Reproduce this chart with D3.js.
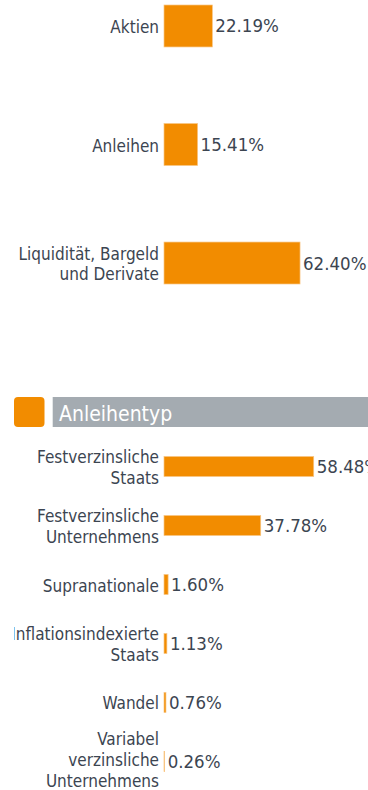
<!DOCTYPE html>
<html>
<head>
<meta charset="utf-8">
<script src="https://cdn.jsdelivr.net/npm/d3@7"></script>
<style>
  html, body { margin: 0; padding: 0; background: #fff; }
  svg { display: block; }
  text { font-family: "DejaVu Sans", Verdana, sans-serif; font-stretch: condensed; }
</style>
</head>
<body>
<svg id="chart" width="368" height="790"></svg>
<script>
// Asset allocation
const assetCategories = ["Aktien", "Anleihen", "Liquidität, Bargeld\nund Derivate"];
const assetValues = [22.19, 15.41, 62.40];

// Bond type breakdown
const bondTitle = "Anleihentyp";
const bondCategories = [
  "Festverzinsliche\nStaats",
  "Festverzinsliche\nUnternehmens",
  "Supranationale",
  "Inflationsindexierte\nStaats",
  "Wandel",
  "Variabel\nverzinsliche\nUnternehmens"
];
const bondValues = [58.48, 37.78, 1.60, 1.13, 0.76, 0.26];

const ORANGE = "#f28c00";
const TEXT = "#3c4551";
const fmt = v => d3.format(".2f")(v) + "%";

const WIDTH = 368, HEIGHT = 790;
const svg = d3.select("#chart");
const barX0 = 164;
const labelX = 159;

function drawBars(g, cats, vals, x, y, opts) {
  const rows = g.selectAll("g.row")
    .data(cats.map((c, i) => ({ cat: c, val: vals[i] })))
    .join("g")
    .attr("class", "row");

  rows.append("rect")
    .attr("x", barX0)
    .attr("y", d => y(d.cat))
    .attr("width", d => x(d.val))
    .attr("height", y.bandwidth())
    .attr("fill", ORANGE)
    .attr("stroke", "#f8c583")
    .attr("stroke-width", 0.7);

  rows.append("text")
    .attr("x", labelX)
    .attr("text-anchor", "end")
    .attr("font-size", opts.labelSize)
    .attr("fill", TEXT)
    .each(function (d) {
      const lines = d.cat.split("\n");
      const cy = y(d.cat) + y.bandwidth() / 2;
      // centre the block on the bar, but keep the last line inside the drawing
      let first = cy - (lines.length - 1) * opts.lineHeight / 2 + opts.baseline;
      first = Math.min(first, HEIGHT - 3 - (lines.length - 1) * opts.lineHeight);
      d3.select(this).selectAll("tspan")
        .data(lines)
        .join("tspan")
        .attr("x", labelX)
        .attr("y", (l, i) => first + i * opts.lineHeight)
        .text(l => l);
    });

  rows.append("text")
    .attr("x", d => barX0 + x(d.val) + 3)
    .attr("y", d => y(d.cat) + y.bandwidth() / 2 + opts.valueBaseline)
    .attr("font-size", opts.valueSize)
    .attr("fill", TEXT)
    .text(d => fmt(d.val));
}

// Top chart
const xTop = d3.scaleLinear().domain([0, 100]).range([0, 218]);
const yTop = d3.scaleBand().domain(assetCategories).range([5, 284]).paddingInner(0.646).paddingOuter(0);
drawBars(svg.append("g"), assetCategories, assetValues, xTop, yTop,
  { labelSize: 17, lineHeight: 20, baseline: 7, valueSize: 18.5, valueBaseline: 6.5 });

// Section header
const header = svg.append("g");
header.append("rect")
  .attr("x", 14).attr("y", 397).attr("width", 30.5).attr("height", 30)
  .attr("rx", 4).attr("fill", ORANGE);
header.append("rect")
  .attr("x", 52.7).attr("y", 397).attr("width", WIDTH - 52.7).attr("height", 30)
  .attr("fill", "#a4abb1");
header.append("text")
  .attr("x", 59).attr("y", 420.5)
  .attr("font-size", 21)
  .attr("fill", "#fff")
  .text(bondTitle);

// Bond type chart, clipped at its left edge
svg.append("defs").append("clipPath").attr("id", "bondClip")
  .append("rect").attr("x", 14).attr("y", 430).attr("width", WIDTH - 14).attr("height", HEIGHT - 430);
const xBond = d3.scaleLinear().domain([0, 100]).range([0, 256]);
const yBond = d3.scaleBand().domain(bondCategories).range([456.5, 771.5]).paddingInner(0.661).paddingOuter(0);
drawBars(svg.append("g").attr("clip-path", "url(#bondClip)"), bondCategories, bondValues, xBond, yBond,
  { labelSize: 17, lineHeight: 21, baseline: 7, valueSize: 18.5, valueBaseline: 6.5 });
</script>
</body>
</html>
